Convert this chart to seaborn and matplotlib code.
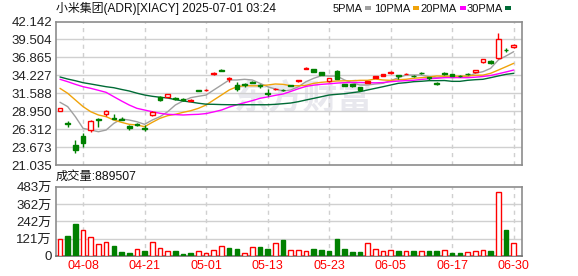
import numpy as np
import pandas as pd
import matplotlib
matplotlib.use("Agg")
import matplotlib.pyplot as plt
import seaborn as sns
from matplotlib.patches import Rectangle

# ---------------- data ----------------
dates = ["04-03", "04-04", "04-07", "04-08", "04-09", "04-10", "04-11", "04-14", "04-15", "04-16",
         "04-17", "04-21", "04-22", "04-23", "04-24", "04-25", "04-28", "04-29", "04-30", "05-01",
         "05-02", "05-05", "05-06", "05-07", "05-08", "05-09", "05-12", "05-13", "05-14", "05-15",
         "05-16", "05-19", "05-20", "05-21", "05-22", "05-23", "05-27", "05-28", "05-29", "05-30",
         "06-02", "06-03", "06-04", "06-05", "06-06", "06-09", "06-10", "06-11", "06-12", "06-13",
         "06-16", "06-17", "06-18", "06-20", "06-23", "06-24", "06-25", "06-26", "06-27", "06-30"]

opens = [29.05, 27.20, 23.98, 25.30, 26.18, 27.85, 28.49, 27.95, 27.85, 26.77,
         27.00, 26.50, 28.39, 31.08, 31.08, 30.85, 30.70, 30.45, 32.05, 32.00,
         34.40, 35.00, 33.70, 32.80, 32.95, 33.25, 32.75, 31.65, 32.15, 32.10,
         32.75, 33.45, 35.20, 35.10, 34.67, 33.39, 34.86, 32.95, 32.95, 32.50,
         33.14, 33.88, 34.17, 34.60, 34.20, 34.38, 34.15, 34.60, 33.95, 33.10,
         34.50, 34.37, 34.15, 34.45, 34.67, 36.23, 36.33, 36.73, 38.00, 38.39]
highs = [29.45, 27.55, 24.71, 25.69, 27.65, 28.00, 29.12, 28.49, 28.10, 26.92,
         27.20, 26.92, 29.02, 31.23, 31.50, 31.00, 30.90, 30.70, 32.10, 32.15,
         34.75, 35.10, 34.00, 33.30, 33.14, 33.35, 32.90, 32.20, 32.35, 32.25,
         32.85, 33.60, 35.50, 35.15, 34.70, 33.85, 35.00, 33.00, 33.00, 32.55,
         33.45, 34.15, 34.45, 34.90, 34.30, 34.50, 34.20, 34.70, 34.00, 33.20,
         34.70, 34.40, 34.25, 34.60, 35.05, 36.65, 36.45, 40.50, 38.20, 38.88]
lows = [28.95, 26.65, 22.84, 23.73, 25.93, 26.67, 28.28, 27.80, 27.60, 26.18,
        26.80, 26.03, 28.28, 30.49, 30.95, 30.60, 30.45, 30.40, 31.90, 31.95,
        34.30, 34.80, 33.30, 31.90, 32.50, 33.10, 32.40, 31.20, 32.05, 31.85,
        32.60, 33.20, 35.10, 34.65, 34.20, 33.30, 33.70, 32.65, 32.55, 31.95,
        33.05, 33.80, 34.10, 34.40, 33.70, 34.35, 34.05, 34.40, 33.50, 32.85,
        34.20, 34.15, 33.95, 34.20, 34.60, 36.10, 35.95, 36.58, 37.70, 38.24]
closes = [29.40, 27.10, 23.24, 24.22, 27.50, 27.72, 28.97, 27.85, 27.72, 26.43,
          26.90, 26.30, 28.87, 30.64, 31.43, 30.74, 30.60, 30.55, 31.97, 32.10,
          34.60, 34.90, 33.85, 32.20, 32.85, 33.15, 32.60, 31.55, 32.25, 32.00,
          32.68, 33.60, 35.30, 34.67, 34.23, 33.79, 33.75, 32.70, 32.60, 32.10,
          33.39, 34.12, 34.37, 34.72, 34.10, 34.45, 34.10, 34.52, 33.90, 33.00,
          34.45, 34.17, 34.10, 34.40, 35.00, 36.58, 35.99, 39.52, 37.95, 38.73]

ma5 = [30.26, 29.62, 28.14, 26.43, 26.18, 25.93, 26.18, 27.16, 27.80, 27.65,
       27.40, 27.02, 27.65, 28.14, 28.87, 29.86, 30.45, 30.94, 31.14, 31.33,
       32.07, 32.80, 33.54, 33.54, 33.64, 33.54, 33.05, 32.55, 32.21, 31.92,
       32.07, 32.55, 33.29, 33.79, 34.17, 34.12, 34.12, 33.54, 33.14, 32.80,
       32.80, 32.95, 33.05, 33.44, 33.88, 34.27, 34.27, 34.27, 34.03, 33.88,
       34.03, 33.88, 33.98, 34.03, 34.52, 34.76, 35.25, 36.48, 37.07, 37.70]
ma10 = [32.31, 31.58, 30.60, 29.62, 28.87, 28.39, 28.14, 27.65, 27.31, 27.02,
        26.92, 26.67, 27.31, 27.90, 28.29, 28.49, 28.78, 29.02, 29.37, 29.86,
        30.60, 31.33, 32.07, 32.55, 32.70, 32.68, 32.68, 32.80, 32.95, 32.90,
        32.70, 32.70, 32.75, 33.05, 33.20, 33.29, 33.39, 33.42, 33.42, 33.49,
        33.49, 33.68, 33.54, 33.48, 33.58, 33.64, 33.79, 33.88, 33.98, 34.13,
        34.10, 34.10, 34.10, 34.13, 34.23, 34.25, 34.52, 35.00, 35.49, 35.99]
ma20 = [33.64, 33.29, 32.90, 32.55, 32.31, 32.02, 31.72, 31.08, 30.45, 29.86,
        29.37, 29.12, 28.87, 28.64, 28.49, 28.45, 28.39, 28.45, 28.49, 28.60,
        28.85, 29.12, 29.55, 29.90, 30.20, 30.50, 30.84, 31.05, 31.28, 31.48,
        31.85, 32.25, 32.60, 32.78, 32.90, 32.98, 33.08, 33.15, 33.18, 33.18,
        33.15, 33.12, 33.16, 33.29, 33.38, 33.44, 33.50, 33.62, 33.73, 33.79,
        33.88, 33.90, 33.88, 33.88, 33.95, 34.05, 34.20, 34.45, 34.72, 35.00]
ma30 = [33.98, 33.68, 33.43, 33.14, 32.95, 32.75, 32.55, 32.40, 32.15, 31.92,
        31.60, 31.33, 31.14, 31.00, 30.89, 30.65, 30.45, 30.30, 30.12, 29.98,
        29.96, 29.92, 29.90, 29.90, 29.90, 29.90, 29.90, 29.90, 29.96, 30.05,
        30.15, 30.35, 30.60, 30.84, 31.08, 31.33, 31.43, 31.52, 31.67, 31.82,
        32.07, 32.31, 32.55, 32.80, 33.05, 33.15, 33.29, 33.35, 33.44, 33.44,
        33.46, 33.34, 33.34, 33.49, 33.58, 33.64, 33.88, 34.13, 34.37, 34.52]

# volume in 万 (10k) units; vol_up: close >= previous close
volume = [118, 139, 222, 180, 130, 83, 97, 69, 30, 23,
          46, 35, 97, 53, 35, 35, 14, 21, 32, 21,
          39, 67, 55, 49, 21, 60, 62, 49, 88, 111,
          39, 39, 32, 49, 42, 35, 118, 49, 28, 28,
          90, 46, 32, 39, 35, 32, 35, 32, 35, 35,
          39, 21, 21, 28, 35, 39, 35, 446, 180, 90]
vol_up = [1, 0, 0, 1, 1, 1, 1, 0, 0, 0,
          1, 0, 1, 1, 1, 0, 0, 0, 1, 1,
          1, 1, 0, 0, 1, 1, 0, 0, 1, 0,
          1, 1, 1, 0, 0, 0, 0, 0, 0, 0,
          1, 1, 1, 1, 0, 1, 0, 1, 0, 0,
          1, 0, 0, 1, 1, 1, 0, 1, 0, 1]

price_ticks = [21.035, 23.673, 26.312, 28.950, 31.588, 34.227, 36.865, 39.504, 42.142]
vol_ticks = [0, 121, 242, 362, 483]
vol_tick_labels = ["0", "121万", "242万", "362万", "483万"]
x_tick_dates = ["04-08", "04-21", "05-01", "05-13", "05-23", "06-05", "06-17", "06-30"]
title = "小米集团(ADR)[XIACY] 2025-07-01 03:24"
vol_title = "成交量:889507"
ma_names = ["5PMA", "10PMA", "20PMA", "30PMA"]

# ---------------- style ----------------
sns.set_theme(style="white")
FAM = ["Liberation Sans", "Noto Sans CJK SC", "DejaVu Sans"]
plt.rcParams["font.family"] = FAM

UP = "#ff0000"
DOWN = "#008000"
MA_COLORS = ["#a0a0a0", "#f0a30a", "#ff00ff", "#006b36"]
GRID = "#d0d0d0"
SPINE = "#8c8c8c"

W, H = 578, 276
fig = plt.figure(figsize=(W / 100, H / 100), dpi=100)
fig.patch.set_facecolor("white")

L, R = 56, 522
ax1 = fig.add_axes([L / W, 1 - 165 / H, (R - L) / W, (165 - 21.5) / H])
ax2 = fig.add_axes([L / W, 1 - 256 / H, (R - L) / W, (256 - 186.5) / H])

df = pd.DataFrame({"date": dates, "open": opens, "high": highs, "low": lows,
                   "close": closes, "ma5": ma5, "ma10": ma10, "ma20": ma20,
                   "ma30": ma30, "volume": volume, "vol_up": vol_up})
df["i"] = np.arange(len(df))
xt = [dates.index(d) for d in x_tick_dates]

# watermark
ax1.text(0.53, 0.47, "东方财富", transform=ax1.transAxes, fontsize=25,
         fontweight="bold", color="#e8e8ee", ha="center", va="center",
         family=["Noto Sans CJK SC"], zorder=0)

# ---------------- price panel ----------------
bw = 0.6
for _, r in df.iterrows():
    up = r["close"] >= r["open"]
    col = UP if up else DOWN
    ax1.vlines(r["i"], r["low"], r["high"], color=col, lw=1, zorder=3)
    lo, hi = min(r["open"], r["close"]), max(r["open"], r["close"])
    h = max(hi - lo, 0.08)
    ax1.bar(r["i"], h, bottom=lo - (h - (hi - lo)) / 2, width=bw,
            facecolor="white" if up and (hi - lo) > 0.3 else col,
            edgecolor=col, lw=1, zorder=4)

for name, c in zip(["ma5", "ma10", "ma20", "ma30"], MA_COLORS):
    sns.lineplot(data=df, x="i", y=name, ax=ax1, color=c, lw=1, zorder=2, legend=False)

ax1.set_ylim(price_ticks[0], price_ticks[-1])
ax1.set_yticks(price_ticks)
ax1.set_yticklabels([f"{t:.3f}" for t in price_ticks])

# ---------------- volume panel ----------------
for _, r in df.iterrows():
    if r["vol_up"]:
        ax2.bar(r["i"], r["volume"], width=bw, facecolor="white", edgecolor=UP, lw=1, zorder=3)
    else:
        ax2.bar(r["i"], r["volume"], width=bw, facecolor=DOWN, edgecolor=DOWN, lw=1, zorder=3)
ax2.set_ylim(0, vol_ticks[-1])
ax2.set_yticks(vol_ticks)
ax2.set_yticklabels(vol_tick_labels)

for ax in (ax1, ax2):
    ax.set_xlim(-0.52, 60.08)
    ax.set_xticks(xt)
    ax.set_xlabel("")
    ax.set_ylabel("")
    ax.grid(False)
    ax.set_facecolor("white")
    for s in ax.spines.values():
        s.set_color(SPINE)
        s.set_linewidth(1.2)
    for y in ax.get_yticks()[1:-1]:
        ax.axhline(y, color=GRID, lw=1, zorder=1)
    for x in xt:
        ax.axvline(x, color=GRID, lw=1, ls=(0, (3, 3)), zorder=1)
    ax.tick_params(axis="y", length=0, pad=3, labelsize=9.5, labelcolor="#222222")

ax1.tick_params(axis="x", length=0, labelbottom=False)
ax2.set_xticklabels(x_tick_dates)
ax2.tick_params(axis="x", length=0, pad=3, labelsize=9, labelcolor=UP)
ax2.spines["bottom"].set_color("#707070")

# ---------------- texts ----------------
fig.text(L / W, 1 - 8.5 / H, title, fontsize=8.6, color="#111111", ha="left", va="center")
fig.text(L / W, 1 - 177 / H, vol_title, fontsize=8.8, color="#111111", ha="left", va="center")

box_x = [365, 413, 459.5, 505]
for nm, bx, c in zip(ma_names, box_x, MA_COLORS):
    fig.text((bx - 2.5) / W, 1 - 8.5 / H, nm, fontsize=8, color="#111111", ha="right", va="center")
    fig.patches.append(Rectangle((bx / W, 1 - 10 / H), 6 / W, 3.5 / H,
                                 transform=fig.transFigure, facecolor=c, edgecolor="none"))

fig.savefig("out.png", dpi=100, facecolor="white")
